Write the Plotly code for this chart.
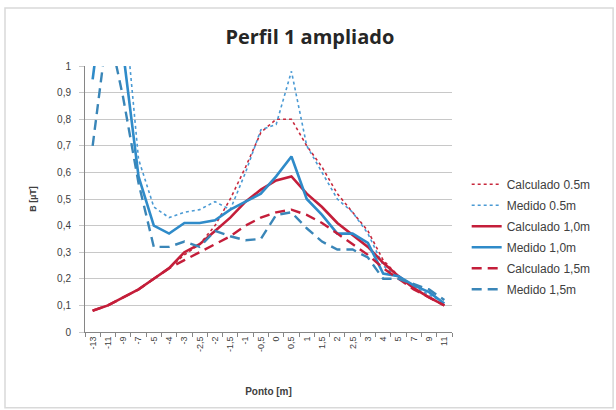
import plotly.graph_objects as go

pontos = ["-13","-11","-9","-7","-5","-4","-3","-2,5","-2","-1,5","-1","-0,5","0",
          "0,5","1","1,5","2","2,5","3","4","5","7","9","11"]

calc_05 = [0.08,0.10,0.13,0.16,0.20,0.24,0.29,0.33,0.40,0.50,0.62,0.75,0.80,0.80,
           0.70,0.62,0.52,0.45,0.38,0.27,0.21,0.165,0.13,0.10]
med_05 = [1.5,1.6,1.27,0.65,0.47,0.43,0.45,0.46,0.49,0.46,0.60,0.76,0.78,0.98,
          0.70,0.60,0.50,0.45,0.37,0.25,0.20,0.17,0.14,0.11]
calc_10 = [0.08,0.10,0.13,0.16,0.20,0.24,0.30,0.33,0.38,0.43,0.49,0.535,0.57,0.585,
           0.52,0.47,0.41,0.365,0.32,0.26,0.21,0.165,0.13,0.10]
med_10 = [0.95,1.4,1.05,0.585,0.40,0.37,0.41,0.41,0.42,0.46,0.49,0.52,0.585,0.66,
          0.50,0.44,0.37,0.37,0.335,0.22,0.21,0.175,0.15,0.107]
calc_15 = [0.08,0.10,0.13,0.16,0.20,0.24,0.27,0.30,0.33,0.36,0.40,0.43,0.45,0.46,
           0.44,0.41,0.37,0.33,0.29,0.24,0.20,0.16,0.13,0.10]
med_15 = [0.70,1.15,0.88,0.56,0.32,0.32,0.34,0.32,0.38,0.36,0.345,0.35,0.44,0.45,
          0.39,0.34,0.31,0.31,0.28,0.20,0.20,0.18,0.16,0.12]

series = [
    ("Calculado 0.5m", calc_05, "#C8283C", "dot", 1.6),
    ("Medido 0.5m", med_05, "#4A9AD4", "dot", 1.6),
    ("Calculado 1,0m", calc_10, "#C41E3A", "solid", 2.6),
    ("Medido 1,0m", med_10, "#2F8BC9", "solid", 2.6),
    ("Calculado 1,5m", calc_15, "#C41E3A", "10px,6px", 2.4),
    ("Medido 1,5m", med_15, "#3A86B8", "10px,6px", 2.4),
]

fig = go.Figure()
for k, (name, vals, color, dash, w) in enumerate(series):
    fig.add_trace(go.Scatter(
        x=pontos, y=vals, name=name, mode="lines", legendgroup=f"g{k}",
        line=dict(color=color, dash=dash, width=w),
    ))

fig.update_layout(
    width=616, height=410,
    margin=dict(l=85, r=164, t=66, b=78),
    paper_bgcolor="white", plot_bgcolor="white",
    separators=", ",
    font=dict(family="Liberation Sans, Arial, sans-serif", color="#404040"),
    title=dict(text="<b>Perfil 1 ampliado</b>", x=0.503, xanchor="center",
               y=0.91, yanchor="middle",
               font=dict(size=20, color="#262626", family="Open Sans, Liberation Sans")),
    showlegend=True,
    legend=dict(x=1.04, y=0.61, xanchor="left", yanchor="top",
                font=dict(size=12, color="#404040"), tracegroupgap=2,
                bgcolor="rgba(0,0,0,0)"),
    xaxis=dict(
        type="category", range=[-0.5, 23.5], tickangle=-90, tickfont=dict(size=9),
        showgrid=False, showline=True, linecolor="#868686", linewidth=1,
        ticks="outside", ticklen=4, tickcolor="#868686", tickson="boundaries",
        title=dict(text="<b>Ponto [m]</b>", font=dict(size=10), standoff=36),
    ),
    yaxis=dict(
        range=[0, 1], dtick=0.1, tickfont=dict(size=10),
        showgrid=True, gridcolor="#C8C8C8", gridwidth=1,
        showline=True, linecolor="#868686", linewidth=1,
        ticks="outside", ticklen=5, tickcolor="#C8C8C8",
        ticklabelstandoff=6,
        zeroline=False,
        title=dict(text="<b>B [µT]</b>", font=dict(size=9), standoff=18),
    ),
)

fig.add_shape(type="rect", xref="paper", yref="paper",
              x0=-0.218, x1=1.439, y0=-0.285, y1=1.218,
              line=dict(color="#D9D9D9", width=1.5), layer="below")

fig.write_html("out.html")
